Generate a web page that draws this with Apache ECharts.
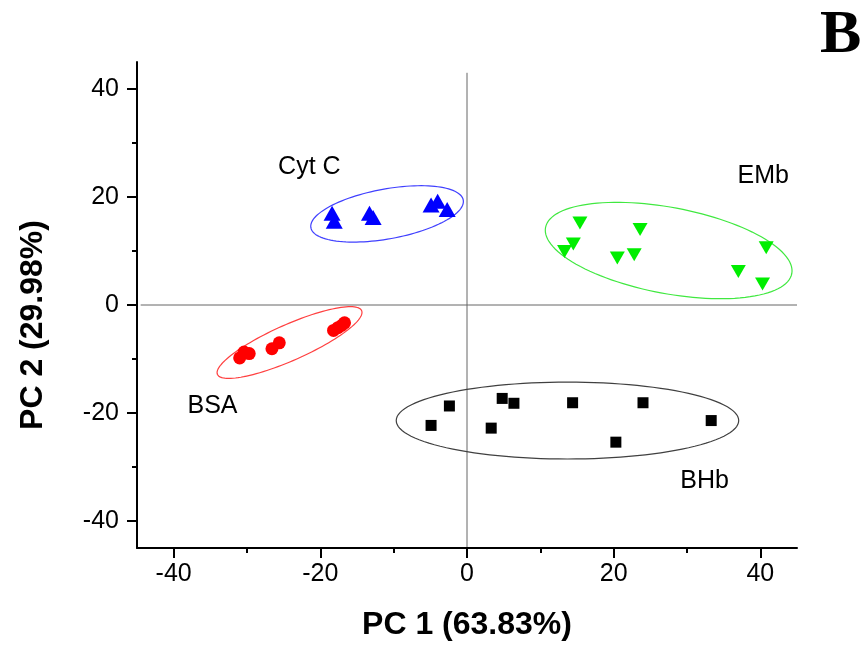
<!DOCTYPE html>
<html>
<head>
<meta charset="utf-8">
<script src="https://cdn.jsdelivr.net/npm/echarts@6/dist/echarts.min.js"></script>
<style>html,body{margin:0;padding:0;background:#fff;}#chart{width:867px;height:653px;}</style>
</head>
<body>
<div id="chart"></div>
<script>
// ---- data ----
const xMajorTicks = [-40, -20, 0, 20, 40];
const xMinorTicks = [-30, -10, 10, 30];
const yMajorTicks = [-40, -20, 0, 20, 40];
const yMinorTicks = [-30, -10, 10, 30];
const xAxisName = 'PC 1 (63.83%)';
const yAxisName = 'PC 2 (29.98%)';
const panelLetter = 'B';

const groups = ['BSA', 'Cyt C', 'EMb', 'BHb'];

const bsaPoints = [
  [-31.0, -9.8], [-30.4, -8.7], [-29.7, -9.0],
  [-26.6, -8.1], [-25.6, -7.0],
  [-18.2, -4.7], [-17.6, -4.2], [-17.1, -3.8], [-16.7, -3.3]
];
const cytcPoints = [
  [-18.4, 17.0], [-18.1, 15.5],
  [-13.3, 17.0], [-12.8, 16.2],
  [-4.9, 18.5], [-4.0, 19.2], [-2.7, 17.7]
];
const embPoints = [
  [15.4, 15.2], [23.6, 14.0], [14.5, 11.3], [13.3, 9.9],
  [20.5, 8.7], [22.8, 9.3], [40.8, 10.6], [37.0, 6.2], [40.3, 3.9]
];
const bhbPoints = [
  [-4.9, -22.3], [-2.4, -18.7], [3.3, -22.8], [4.8, -17.3], [6.4, -18.2],
  [14.4, -18.1], [24.0, -18.1], [33.3, -21.4], [20.3, -25.4]
];

// confidence ellipses: centre (cx, cy) and two conjugate half-axis vectors (ux, uy), (vx, vy) in data units
const ellipseBSA  = [-24.2, -6.95, 9.83, 5.91, 0.99, -3.04];
const ellipseCytC = [-10.9, 16.87, 10.39, 2.56, 0.60, -4.55];
const ellipseEMb  = [27.5, 10.09, 16.79, -4.26, -1.07, -7.84];
const ellipseBHb  = [13.7, -21.4, 23.35, 0, 0, -7.12];

// group label anchor positions (data units)
const groupLabels = [
  ['BSA', -34.7, -18.7],
  ['Cyt C', -21.5, 25.5],
  ['EMb', 40.4, 23.9],
  ['BHb', 32.4, -32.6]
];

// zero reference lines
const zeroLineH = [[-44.5, 0], [45, 0]];
const zeroLineV = [[0, 43], [0, -45]];

// ---- chart ----
const FONT = "'Liberation Sans', Arial, sans-serif";
const chart = echarts.init(document.getElementById('chart'), null, {renderer: 'canvas'});

function ellipseSeries(name, params, color) {
  return {
    name: name,
    type: 'custom',
    silent: true,
    z: 1,
    data: [params],
    encode: {x: 0, y: 1},
    renderItem: function (p, api) {
      const cx = api.value(0), cy = api.value(1), ux = api.value(2), uy = api.value(3), vx = api.value(4), vy = api.value(5);
      const pts = [];
      for (let i = 0; i < 120; i++) {
        const t = i / 120 * Math.PI * 2;
        pts.push(api.coord([cx + ux * Math.cos(t) + vx * Math.sin(t), cy + uy * Math.cos(t) + vy * Math.sin(t)]));
      }
      return {type: 'polygon', shape: {points: pts}, style: {fill: null, stroke: color, lineWidth: 1.2}};
    }
  };
}

const axisLineStyle = {color: '#000', width: 2};

const option = {
  animation: false,
  backgroundColor: '#fff',
  title: {
    text: panelLetter, left: 820, top: 5, padding: 0,
    textStyle: {fontFamily: "'Liberation Serif', 'Times New Roman', serif", fontWeight: 'bold', fontSize: 62, color: '#000'}
  },
  grid: {left: 137, right: 70, top: 62, bottom: 105, containLabel: false},
  xAxis: [
    {
      type: 'value', min: -45, max: 45, position: 'bottom',
      axisLine: {show: true, onZero: false, lineStyle: axisLineStyle},
      axisTick: {show: true, customValues: xMajorTicks, length: 10, lineStyle: axisLineStyle},
      axisLabel: {customValues: xMajorTicks, fontSize: 25, color: '#000', fontFamily: FONT, margin: 14},
      splitLine: {show: false},
      name: xAxisName, nameLocation: 'middle', nameGap: 61,
      nameTextStyle: {fontSize: 32, fontWeight: 'bold', fontFamily: FONT, color: '#000'}
    },
    {
      type: 'value', min: -45, max: 45, position: 'bottom',
      axisLine: {show: false, onZero: false},
      axisTick: {show: true, customValues: xMinorTicks, length: 5, lineStyle: axisLineStyle},
      axisLabel: {show: false},
      splitLine: {show: false}
    }
  ],
  yAxis: [
    {
      type: 'value', min: -45, max: 45, position: 'left',
      axisLine: {show: true, onZero: false, lineStyle: axisLineStyle},
      axisTick: {show: true, customValues: yMajorTicks, length: 10, lineStyle: axisLineStyle},
      axisLabel: {customValues: yMajorTicks, fontSize: 25, color: '#000', fontFamily: FONT, margin: 18},
      splitLine: {show: false},
      name: yAxisName, nameLocation: 'middle', nameGap: 88,
      nameTextStyle: {fontSize: 32, fontWeight: 'bold', fontFamily: FONT, color: '#000', padding: [0, 40, 0, 0]}
    },
    {
      type: 'value', min: -45, max: 45, position: 'left',
      axisLine: {show: false, onZero: false},
      axisTick: {show: true, customValues: yMinorTicks, length: 5, lineStyle: axisLineStyle},
      axisLabel: {show: false},
      splitLine: {show: false}
    }
  ],
  series: [
    {
      name: 'zero lines', type: 'custom', silent: true, z: 0,
      data: [zeroLineH[0].concat(zeroLineH[1]), zeroLineV[0].concat(zeroLineV[1])],
      encode: {x: [0, 2], y: [1, 3]},
      renderItem: function (p, api) {
        const a = api.coord([api.value(0), api.value(1)]);
        const b = api.coord([api.value(2), api.value(3)]);
        return {type: 'line', shape: {x1: a[0], y1: a[1], x2: b[0], y2: b[1]}, style: {stroke: '#666', lineWidth: 1}};
      }
    },
    ellipseSeries('BSA ellipse', ellipseBSA, '#ff4040'),
    ellipseSeries('Cyt C ellipse', ellipseCytC, '#4040ff'),
    ellipseSeries('EMb ellipse', ellipseEMb, '#40e840'),
    ellipseSeries('BHb ellipse', ellipseBHb, '#404040'),
    {
      name: groups[0], type: 'scatter', data: bsaPoints, z: 3,
      symbol: 'circle', symbolSize: 13, itemStyle: {color: '#ff0000', opacity: 1}
    },
    {
      name: groups[1], type: 'scatter', data: cytcPoints, z: 3,
      symbol: 'triangle', symbolSize: [17, 15], itemStyle: {color: '#0000ff', opacity: 1}
    },
    {
      name: groups[2], type: 'scatter', data: embPoints, z: 3,
      symbol: 'triangle', symbolRotate: 180, symbolSize: [15, 13], itemStyle: {color: '#00ee00', opacity: 1}
    },
    {
      name: groups[3], type: 'scatter', data: bhbPoints, z: 3,
      symbol: 'rect', symbolSize: 11, itemStyle: {color: '#000000', opacity: 1}
    },
    {
      name: 'group labels', type: 'custom', silent: true, z: 4,
      data: groupLabels.map(g => [g[1], g[2], g[0]]),
      dimensions: ['x', 'y', {name: 'label', type: 'ordinal'}],
      encode: {x: 0, y: 1},
      renderItem: function (p, api) {
        const g = groupLabels[p.dataIndex];
        const pt = api.coord([g[1], g[2]]);
        return {
          type: 'text', x: pt[0], y: pt[1],
          style: {text: g[0], fill: '#000', font: "25px 'Liberation Sans', Arial, sans-serif", align: 'center', verticalAlign: 'middle'}
        };
      }
    }
  ]
};
chart.setOption(option);
</script>
</body>
</html>
